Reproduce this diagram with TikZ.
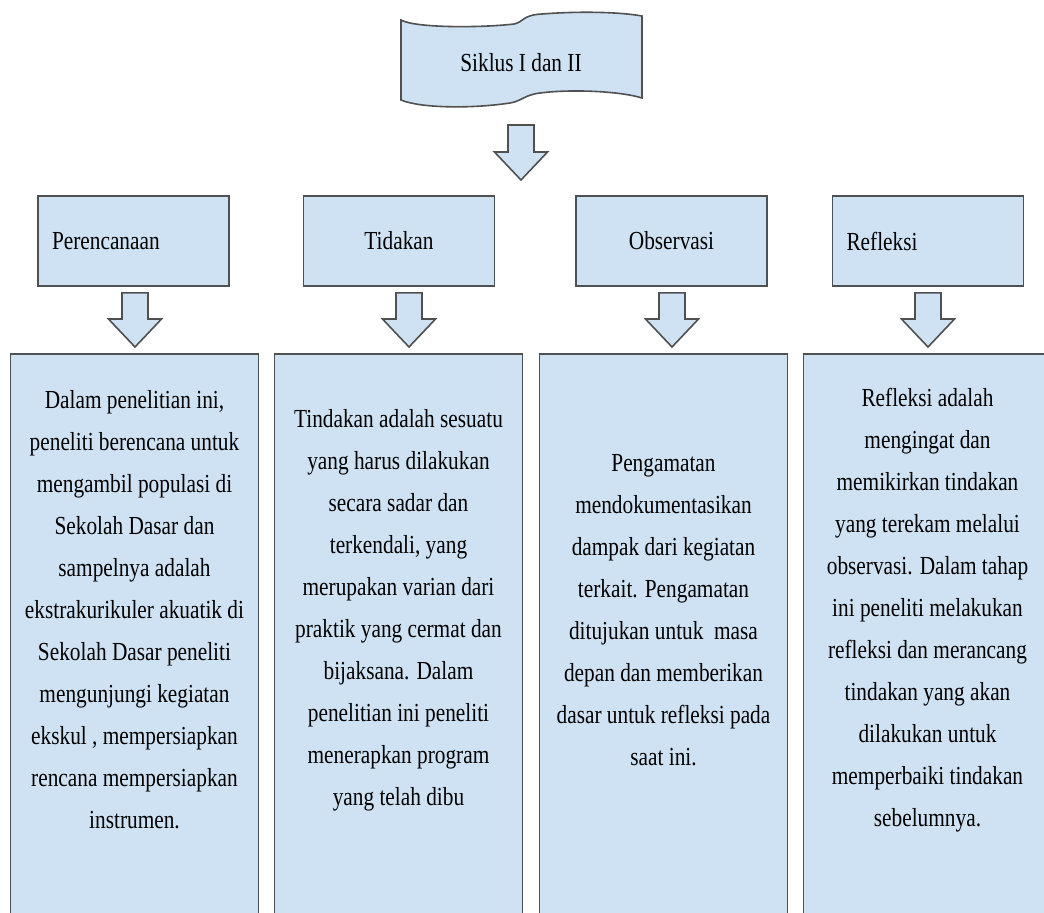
\documentclass[tikz,border=0pt]{standalone}
\usepackage{fontspec}
\setmainfont[FakeStretch=0.82]{Liberation Serif}
\usepackage{tikz}
\tikzset{>=latex}
\usetikzlibrary{calc, positioning}
\definecolor{isi}{HTML}{CFE2F3}
\definecolor{garis}{HTML}{505050}
\tikzset{
    panji/.style={draw=garis, fill=isi, line width=0.8pt},
    judul/.style={inner sep=0pt, font=\fontsize{13}{21}\selectfont},
    tahap/.style={draw=garis, fill=isi, line width=0.8pt, minimum width=95.5pt, minimum height=45pt, inner xsep=7pt, font=\fontsize{13}{21}\selectfont},
    kiri/.style={text width=81.5pt, align=left},
    uraian/.style={draw=garis, fill=isi, line width=0.8pt, minimum width=124pt, minimum height=288.5pt, anchor=north, inner sep=0pt},
    isiteks/.style={align=center, inner sep=0pt, font=\fontsize{13}{21}\selectfont},
    panah/.style={draw=garis, fill=isi, line width=0.8pt, line join=miter}
}
\newcommand{\panahblok}[2]{\draw[panah]($(#1)+(-13, 0)$)--($(#1)+(13, 0)$)--($(#2)+(13, -28)$)--($(#2)+(26.5, -28)$)--(#2)--($(#2)+(-26.5, -28)$)--($(#2)+(-13, -28)$)--cycle;}

\begin{document}
\begin{tikzpicture}[x=0.5pt, y=-0.5pt]
    \useasboundingbox(0, 0) rectangle (1044, 912);
    \clip(0, 0) rectangle (1044, 912);
    \draw[panji](401, 20) .. controls (415, 28) and (480, 28) .. (514, 24) .. controls (524, 22) and (522, 15) .. (542, 14) .. controls (580, 11) and (620, 12) .. (642, 16)--(642, 98) .. controls (620, 91) and (570, 89) .. (540, 93) .. controls (524, 95) and (522, 101) .. (510, 103) .. controls (470, 109) and (420, 108) .. (401, 100)--cycle;
    \node[judul](siklus) at (521, 63){Siklus I dan II};
    \node[tahap, kiri](plan) at (133.5, 241){Perencanaan};
    \node[tahap](aksi) at (399, 241){Tidakan};
    \node[tahap](amati) at (671.5, 241){Observasi};
    \node[tahap, kiri](refl) at (928, 241){Refleksi};
    \node[uraian](uplan) at (134.5, 353){};
    \node[uraian](uaksi) at (398.5, 353){};
    \node[uraian](uamati) at (663.5, 353){};
    \node[uraian](urefl) at (927.5, 353){};
    \node[isiteks](tplan) at ($(uplan.north)+(0, 257)$){Dalam penelitian ini,\\peneliti berencana untuk\\mengambil populasi di\\Sekolah Dasar dan\\sampelnya adalah\\ekstrakurikuler akuatik di\\Sekolah Dasar peneliti\\mengunjungi kegiatan\\ekskul , mempersiapkan\\rencana mempersiapkan\\instrumen.};
    \node[isiteks](taksi) at ($(uaksi.north)+(0, 257)$){Tindakan adalah sesuatu\\yang harus dilakukan\\secara sadar dan\\terkendali, yang\\merupakan varian dari\\praktik yang cermat dan\\bijaksana. Dalam\\penelitian ini peneliti\\menerapkan program\\yang telah dibu};
    \node[isiteks](tamati) at ($(uamati.north)+(0, 257)$){Pengamatan\\mendokumentasikan\\dampak dari kegiatan\\terkait. Pengamatan\\ditujukan untuk~~masa\\depan dan memberikan\\dasar untuk refleksi pada\\saat ini.};
    \node[isiteks](trefl) at ($(urefl.north)+(0, 257)$){Refleksi adalah\\mengingat dan\\memikirkan tindakan\\yang terekam melalui\\observasi. Dalam tahap\\ini peneliti melakukan\\refleksi dan merancang\\tindakan yang akan\\dilakukan untuk\\memperbaiki tindakan\\sebelumnya.};
    % panah blok
    \coordinate(a0) at ($(siklus)+(0, 62)$);
    \coordinate(b0) at ($(siklus)+(0, 117)$);
    \panahblok{a0}{b0}
    \coordinate(a1) at ($(plan.south)+(1.5, 6)$);
    \coordinate(b1) at ($(uplan.north -| a1)+(0, -6)$);
    \panahblok{a1}{b1}
    \coordinate(a2) at ($(aksi.south)+(10, 6)$);
    \coordinate(b2) at ($(uaksi.north -| a2)+(0, -6)$);
    \panahblok{a2}{b2}
    \coordinate(a3) at ($(amati.south)+(0.5, 6)$);
    \coordinate(b3) at ($(uamati.north -| a3)+(0, -6)$);
    \panahblok{a3}{b3}
    \coordinate(a4) at ($(refl.south)+(0, 6)$);
    \coordinate(b4) at ($(urefl.north -| a4)+(0, -6)$);
    \panahblok{a4}{b4}
\end{tikzpicture}
\end{document}
